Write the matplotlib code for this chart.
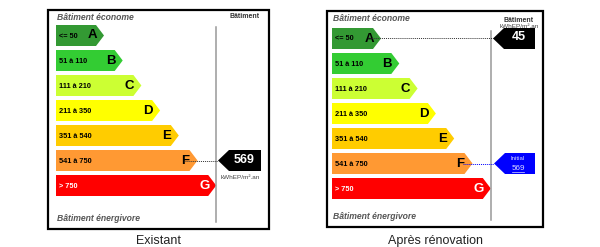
import matplotlib
matplotlib.use('Agg')
import matplotlib.pyplot as plt
from matplotlib.patches import Polygon, Rectangle

# ---- data
classes = ['A', 'B', 'C', 'D', 'E', 'F', 'G']
ranges = ['<= 50', '51 à 110', '111 à 210', '211 à 350', '351 à 540', '541 à 750', '> 750']
upper = [50, 110, 210, 350, 540, 750, 10**9]
colors = ['#339933', '#33cc33', '#ccff33', '#ffff00', '#ffcc00', '#ff9933', '#ff0000']
captions = ['Existant', 'Après rénovation']
value_before = 569
value_after = 45

plt.rcParams['font.family'] = ['Liberation Sans', 'DejaVu Sans']

fig = plt.figure(figsize=(6, 2.47), dpi=100)
ax = fig.add_axes([0, 0, 1, 1])
ax.set_xlim(0, 600)
ax.set_ylim(247, 0)
ax.axis('off')


def cls(v):
    for i, u in enumerate(upper):
        if v <= u:
            return i
    return len(upper) - 1


def arrow(x, y, w, h, col):
    # tip on the left
    pts = [(x, y), (x + 11, y - h / 2), (x + w, y - h / 2), (x + w, y + h / 2), (x + 11, y + h / 2)]
    ax.add_patch(Polygon(pts, closed=True, fc=col, ec='none', zorder=4))


def panel(fx0, fy0, fx1, fy1, bx0, btop, tip0, step, vline, vtop, caption, value, initial=None, unit_top=False):
    ax.add_patch(Rectangle((fx0, fy0), fx1 - fx0, fy1 - fy0, fill=False, ec='black', lw=1.6, zorder=5))
    ax.text(bx0 + 1, fy0 + 7.5, 'Bâtiment économe', fontsize=6.2, style='italic', weight='bold',
            color='#555555', va='center')
    ax.text(bx0 + 1, fy1 - 11, 'Bâtiment énergivore', fontsize=6.2, style='italic', weight='bold',
            color='#555555', va='center')
    h = 21
    pitch = 25
    tips = []
    for i, c in enumerate(classes):
        y0 = btop + i * pitch
        xt = tip0 + i * step
        tips.append((xt, y0 + h / 2))
        pts = [(bx0, y0), (xt - 8, y0), (xt, y0 + h / 2), (xt - 8, y0 + h), (bx0, y0 + h)]
        ax.add_patch(Polygon(pts, closed=True, fc=colors[i], ec='none', zorder=2))
        tc = 'white' if c == 'G' else 'black'
        ax.text(bx0 + 3, y0 + h / 2 + 0.5, ranges[i], fontsize=5.3, weight='bold', color=tc, va='center', zorder=3)
        ax.text(xt - 12, y0 + h / 2, c, fontsize=9.5, weight='bold', color=tc, va='center', ha='center', zorder=3)
    ax.plot([vline, vline], [vtop, fy1 - 7], color='#999999', lw=1.1, zorder=3)
    hx = (vline + fx1) / 2 + 2
    ax.text(hx, vtop - 10, 'Bâtiment', fontsize=5, weight='bold', color='#333333', ha='center', va='center')
    if unit_top:
        ax.text(hx, vtop - 4, 'kWhEP/m².an', fontsize=4.6, color='#444444', ha='center', va='center')
    # main value arrow
    k = cls(value)
    ax_x, ay = vline + 2, tips[k][1]
    arrow(ax_x, ay, fx1 - 8 - ax_x, h, 'black')
    ax.text(ax_x + (fx1 - 8 - ax_x) / 2 + 5, ay - 1, str(value), fontsize=9, weight='bold', color='white',
            ha='center', va='center', zorder=6)
    ax.plot([tips[k][0] - 13, ax_x], [ay, ay], ls=(0, (1, 1)), color='#333333', lw=0.7, zorder=3)
    if not unit_top:
        ax.text(ax_x + (fx1 - 8 - ax_x) / 2 + 1, ay + 17, 'kWhEP/m².an', fontsize=4.6, color='#444444',
                ha='center', va='center')
    if initial is not None:
        k2 = cls(initial)
        iy = tips[k2][1]
        arrow(ax_x + 1, iy, fx1 - 9 - ax_x, h, '#0000ff')
        cx = ax_x + (fx1 - 8 - ax_x) / 2 + 4
        ax.text(cx, iy - 5.5, 'Initial', fontsize=4.3, color='#ddddff', ha='center', va='center', zorder=6)
        ax.text(cx, iy + 5, str(initial), fontsize=5.8, color='#ddddff', ha='center', va='center', zorder=6)
        ax.plot([cx - 6, cx + 6], [iy + 8.7, iy + 8.7], color='#ddddff', lw=0.5, zorder=6)
        ax.plot([tips[k2][0] - 10, ax_x + 1], [iy, iy], ls=(0, (1, 1)), color='#0000ff', lw=0.7, zorder=3)
    ax.text((fx0 + fx1) / 2, 234.5, caption, fontsize=9, color='#222222', ha='center', va='top')


panel(48, 10, 269, 229, 56, 25, 104, 18.7, 216, 27, captions[0], value_before)
panel(327, 11, 543, 227, 332, 28, 381, 18.3, 491, 31, captions[1], value_after,
      initial=value_before, unit_top=True)

fig.savefig('out.png', dpi=100)
